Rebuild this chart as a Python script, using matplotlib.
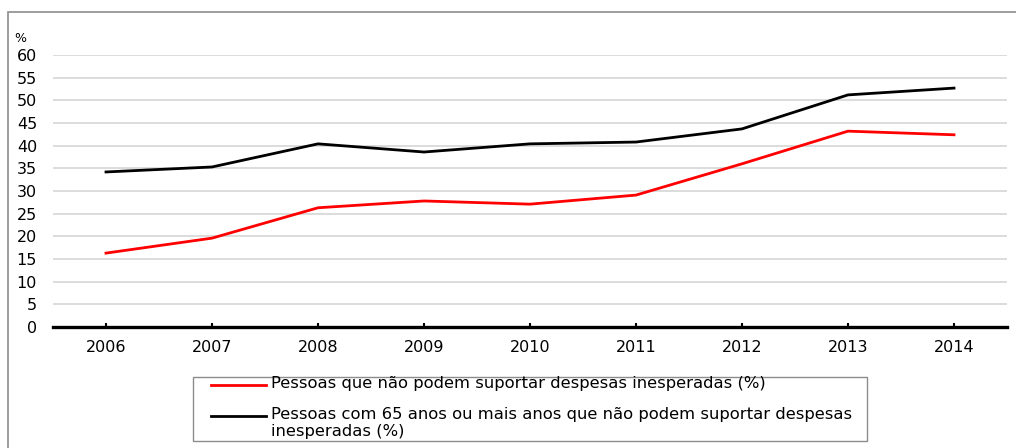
import matplotlib.pyplot as plt
from matplotlib.lines import Line2D
from matplotlib.patches import Rectangle

anos = ['2006', '2007', '2008', '2009', '2010', '2011', '2012', '2013', '2014']
despesas_total = [16.3, 19.6, 26.3, 27.8, 27.1, 29.1, 36.0, 43.2, 42.4]
despesas_65 = [34.2, 35.3, 40.4, 38.6, 40.4, 40.8, 43.7, 51.2, 52.7]
yticks = list(range(0, 65, 5))

label_total = ['Pessoas que não podem suportar despesas inesperadas (%)']
label_65 = ['Pessoas com 65 anos ou mais anos que não podem suportar despesas',
            'inesperadas (%)']

W, H = 1016, 448
plt.rcParams['font.family'] = ['DejaVu Sans']

fig = plt.figure(figsize=(W / 100, H / 100), dpi=100)


def px(x, y):
    # pixel coords (top-left origin) -> figure fraction
    return x / W, 1 - y / H


# moldura exterior (so topo e esquerda visiveis)
fig.patches.append(Rectangle(px(8, 470), (1030 - 8) / W, (470 - 12) / H,
                             transform=fig.transFigure, fill=False,
                             edgecolor='#8c8c8c', linewidth=1.2))

ax = fig.add_axes([53 / W, 1 - 327 / H, 954 / W, 272 / H])
x = list(range(len(anos)))
ax.plot(x, despesas_total, color='#ff0000', linewidth=2.0, clip_on=False)
ax.plot(x, despesas_65, color='#000000', linewidth=2.0, clip_on=False)

ax.set_xlim(-0.5, len(anos) - 0.5)
ax.set_ylim(0, 60)
ax.set_yticks(yticks)
ax.set_xticks(x)
ax.set_xticklabels(anos)
ax.tick_params(axis='y', length=0, pad=11.5, labelsize=11.5)
ax.tick_params(axis='x', direction='in', length=3, width=1.5, pad=9, labelsize=11.5)
ax.grid(axis='y', color='#d9d9d9', linewidth=1.3)
ax.set_axisbelow(True)
for s in ['top', 'right', 'left']:
    ax.spines[s].set_visible(False)
ax.spines['bottom'].set_linewidth(2.4)
ax.spines['bottom'].set_zorder(5)

fig.text(*px(20, 38), '%', fontsize=9, ha='center', va='center')

# legenda
fig.patches.append(Rectangle(px(193, 441), (867 - 193) / W, (441 - 377) / H,
                             transform=fig.transFigure, fill=False,
                             edgecolor='#8c8c8c', linewidth=1.0))
for yy, cor, linhas in [(385, '#ff0000', label_total), (416, '#000000', label_65)]:
    x0, y0 = px(211, yy)
    x1, _ = px(266, yy)
    fig.add_artist(Line2D([x0, x1], [y0, y0], transform=fig.transFigure,
                          color=cor, linewidth=2.0))
    for i, txt in enumerate(linhas):
        fig.text(*px(271, yy - 2 + i * 17), txt, fontsize=11.8, ha='left',
                 va='center')

fig.savefig('out.png', dpi=100)
